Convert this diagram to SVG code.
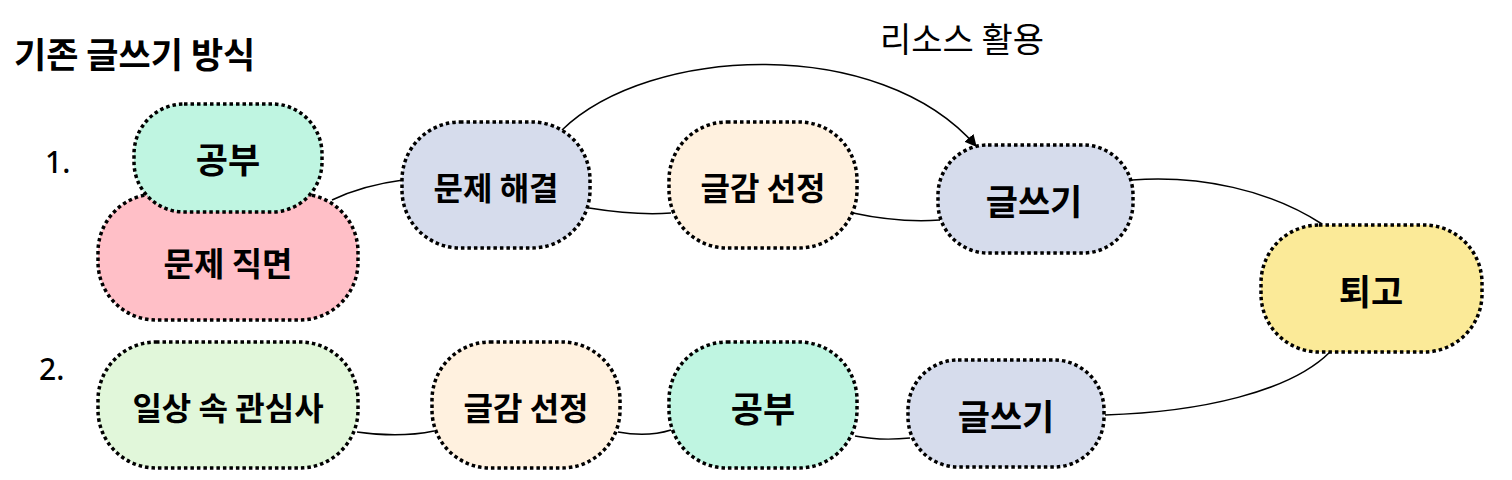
<svg xmlns="http://www.w3.org/2000/svg" width="1512" height="480" viewBox="0 0 1512 480">
  <defs>
    <marker id="arrow" viewBox="0 0 10 10" refX="9" refY="5" markerWidth="12" markerHeight="12" markerUnits="userSpaceOnUse" orient="auto">
      <path d="M0,0 L10,5 L0,10 z" fill="#000"/>
    </marker>
  </defs>
  <style>
    .node { stroke: #000; stroke-width: 3.5; stroke-dasharray: 3.5 3; }
    .lbl { font-family: "Noto Sans CJK KR", "Noto Sans", sans-serif; font-weight: 700; fill: #000; text-anchor: middle; dominant-baseline: central; }
    .txt { font-family: "Noto Sans CJK KR", "Noto Sans", sans-serif; fill: #000; dominant-baseline: central; }
    .num { font-family: "Noto Sans", "Liberation Sans", sans-serif; font-weight: 500; fill: #000; dominant-baseline: central; }
    .edge { fill: none; stroke: #000; stroke-width: 1.5; }
  </style>
  <rect width="1512" height="480" fill="#fff"/>

  <text class="txt" x="14" y="52" font-size="35" font-weight="700">기존 글쓰기 방식</text>
  <text class="txt" x="962" y="37" font-size="34" text-anchor="middle">리소스 활용</text>
  <text class="num" x="45" y="161" font-size="30">1.</text>
  <text class="num" x="39" y="368" font-size="30">2.</text>

  <g id="connectors">
    <path class="edge" d="M 332 200 C 355 189, 380 183, 403 180"/>
    <path class="edge" d="M 589 208 C 620 213, 645 215, 671 213"/>
    <path class="edge" d="M 853 213 C 885 220, 910 222, 940 220"/>
    <path class="edge" d="M 562 130 C 650 45, 880 35, 976 146" marker-end="url(#arrow)"/>
    <path class="edge" d="M 1132 180 C 1200 175, 1270 190, 1322 224"/>
    <path class="edge" d="M 1330 352 C 1290 392, 1200 412, 1105 415"/>
    <path class="edge" d="M 357 432 C 385 436, 410 436, 434 431"/>
    <path class="edge" d="M 618 432 C 640 436, 655 435, 671 430"/>
    <path class="edge" d="M 855 436 C 875 440, 890 440, 910 438"/>
  </g>

  <g id="node-munje-jikmyeon">
    <rect class="node" x="98" y="194" width="260" height="126" rx="58" ry="58" fill="#FFBFC7"/>
    <text class="lbl" x="228" y="262" font-size="33">문제 직면</text>
  </g>
  <g id="node-gongbu-1">
    <rect class="node" x="134" y="104" width="188" height="108" rx="50" ry="50" fill="#BFF5E1"/>
    <text class="lbl" x="228" y="157" font-size="35">공부</text>
  </g>
  <g id="node-munje-haegyeol">
    <rect class="node" x="402" y="122" width="188" height="126" rx="58" ry="58" fill="#D6DCEC"/>
    <text class="lbl" x="496" y="186" font-size="32">문제 해결</text>
  </g>
  <g id="node-geulgam-1">
    <rect class="node" x="669" y="122" width="188" height="126" rx="58" ry="58" fill="#FFF1DF"/>
    <text class="lbl" x="763" y="186" font-size="32">글감 선정</text>
  </g>
  <g id="node-geulsseugi-1">
    <rect class="node" x="938" y="145" width="195" height="108" rx="50" ry="50" fill="#D6DCEC"/>
    <text class="lbl" x="1034" y="199" font-size="35">글쓰기</text>
  </g>
  <g id="node-toego">
    <rect class="node" x="1261" y="225" width="221" height="127" rx="58" ry="58" fill="#FBEA98"/>
    <text class="lbl" x="1371" y="289" font-size="35">퇴고</text>
  </g>
  <g id="node-ilsang">
    <rect class="node" x="98" y="342" width="260" height="126" rx="58" ry="58" fill="#E1F7DA"/>
    <text class="lbl" x="228" y="406" font-size="32">일상 속 관심사</text>
  </g>
  <g id="node-geulgam-2">
    <rect class="node" x="432" y="342" width="188" height="126" rx="58" ry="58" fill="#FFF1DF"/>
    <text class="lbl" x="526" y="406" font-size="32">글감 선정</text>
  </g>
  <g id="node-gongbu-2">
    <rect class="node" x="669" y="342" width="188" height="126" rx="58" ry="58" fill="#BFF5E1"/>
    <text class="lbl" x="763" y="406" font-size="35">공부</text>
  </g>
  <g id="node-geulsseugi-2">
    <rect class="node" x="908" y="360" width="196" height="107" rx="50" ry="50" fill="#D6DCEC"/>
    <text class="lbl" x="1006" y="414" font-size="35">글쓰기</text>
  </g>
</svg>
